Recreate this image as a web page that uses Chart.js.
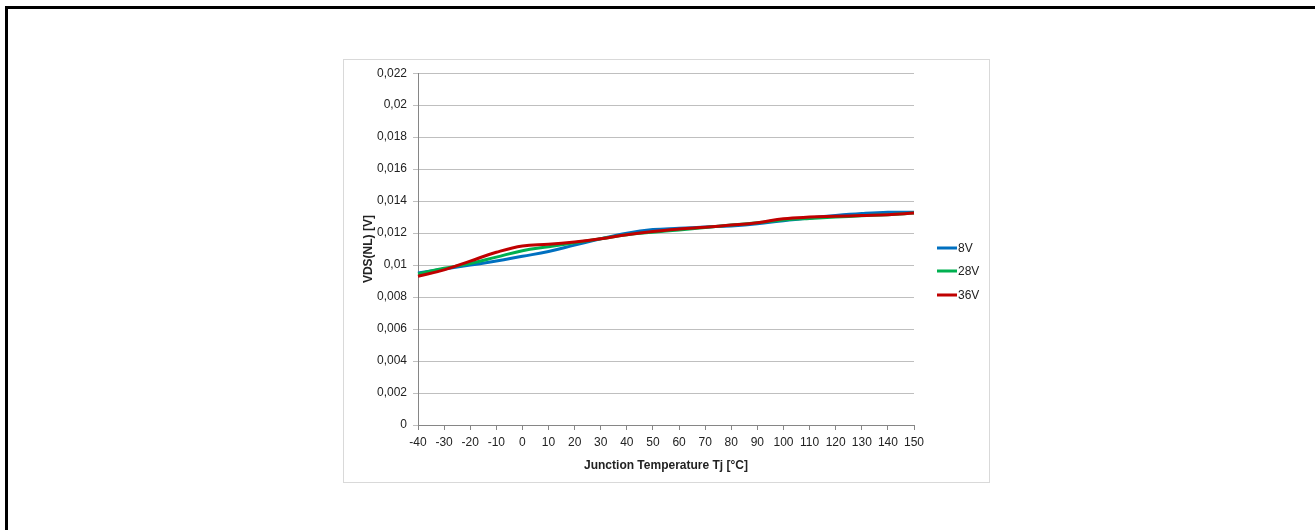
<!DOCTYPE html>
<html>
<head>
<meta charset="utf-8">
<script src="https://cdn.jsdelivr.net/npm/chart.js@4.4.1/dist/chart.umd.min.js"></script>
<style>
	html, body { margin: 0; padding: 0; background: #fff; }
	body { width: 1315px; height: 530px; position: relative; overflow: hidden; }
	#frame { position: absolute; left: 5px; top: 6px; width: 1320px; height: 540px;
		border-top: 3px solid #000; border-left: 3px solid #000; }
	#box { position: absolute; left: 343px; top: 59px; width: 645px; height: 422px;
		border: 1px solid #d9d9d9; }
	#myChart { display: block; }
</style>
</head>
<body>
<div id="frame"></div>
<div id="box"><canvas id="myChart" width="645" height="422"></canvas></div>
<script>
	'use strict';

	var temps = [-40, -30, -20, -10, 0, 10, 20, 30, 40, 50, 60, 70, 80, 90, 100, 110, 120, 130, 140, 150];
	var v8 = [0.0095, 0.00975, 0.0100, 0.01025, 0.01055, 0.01085, 0.01125, 0.01165, 0.0120, 0.01222,
		0.0123, 0.01238, 0.01245, 0.01258, 0.01278, 0.01295, 0.0131, 0.01322, 0.0133, 0.0133];
	var v28 = [0.00945, 0.0098, 0.0101, 0.0105, 0.0109, 0.01115, 0.0114, 0.01165, 0.0119, 0.01205,
		0.0122, 0.01235, 0.0125, 0.01265, 0.01282, 0.01292, 0.013, 0.01308, 0.01315, 0.01325];
	var v36 = [0.0093, 0.0097, 0.01025, 0.0108, 0.0112, 0.0113, 0.01145, 0.01165, 0.0119, 0.0121,
		0.01225, 0.01237, 0.0125, 0.01265, 0.0129, 0.013, 0.01305, 0.0131, 0.01315, 0.01325];
	var yTicks = [0, 0.002, 0.004, 0.006, 0.008, 0.01, 0.012, 0.014, 0.016, 0.018, 0.02, 0.022];

	var fontFamily = '"Liberation Sans", Arial, sans-serif';
	var axisColor = '#868686';
	var gridColor = '#bfbfbf';
	var textColor = '#222';

	function series(label, data, color, order) {
		return {
			label : label,
			data : data,
			order : order,
			borderColor : color,
			backgroundColor : color,
			borderWidth : 3,
			pointRadius : 0,
			tension : 0.4,
			fill : false
		};
	}

	// small legend on the right, Excel style (short line + label)
	var sideLegend = {
		id : 'sideLegend',
		afterDraw : function(chart) {
			var c = chart.ctx;
			var area = chart.chartArea;
			var sets = chart.data.datasets;
			var step = 23.5;
			var y0 = chart.height / 2 - step * (sets.length - 1) / 2;
			var x0 = area.right + 23;
			c.save();
			c.font = '12px ' + fontFamily;
			c.textBaseline = 'middle';
			c.textAlign = 'left';
			sets.forEach(function(ds, i) {
				var y = Math.round(y0 + i * step);
				c.fillStyle = ds.borderColor;
				c.fillRect(x0, y - 1.5, 20, 3);
				c.fillStyle = textColor;
				c.fillText(ds.label, x0 + 21, y + 1);
			});
			c.restore();
		}
	};

	var ctx = document.getElementById("myChart");

	var myChart = new Chart(ctx, {
		type : 'line',
		data : {
			labels : temps,
			datasets : [
				series("8V", v8, "#0070c0", 2),
				series("28V", v28, "#00b050", 1),
				series("36V", v36, "#c00000", 0)
			]
		},
		plugins : [sideLegend],
		options : {
			responsive : false,
			animation : false,
			layout : {
				padding : { top : 13, right : 75, bottom : 9, left : 17 }
			},
			plugins : {
				tooltip : { enabled : false },
				legend : { display : false }
			},
			scales : {
				x : {
					type : 'category',
					offset : false,
					grid : { drawOnChartArea : false, drawTicks : true, tickLength : 5, color : axisColor },
					border : { color : axisColor },
					ticks : {
						color : textColor,
						autoSkip : false,
						maxRotation : 0,
						padding : 5,
						font : { family : fontFamily, size : 12 }
					},
					title : {
						display : true,
						text : 'Junction Temperature Tj [°C]',
						color : textColor,
						padding : { top : 4, bottom : 0 },
						font : { family : fontFamily, size : 12, weight : 'bold' }
					},
					afterFit : function(scale) { scale.height = 48; }
				},
				y : {
					min : 0,
					max : 0.022,
					afterBuildTicks : function(scale) {
						scale.ticks = yTicks.map(function(v) { return { value : v }; });
					},
					grid : { color : gridColor, tickLength : 5, tickColor : gridColor },
					border : { color : axisColor },
					ticks : {
						color : textColor,
						padding : 6,
						font : { family : fontFamily, size : 12 },
						callback : function(value) {
							return String(parseFloat(value.toFixed(3))).replace('.', ',');
						}
					},
					title : {
						display : true,
						text : 'VDS(NL) [V]',
						color : textColor,
						padding : { top : 0, bottom : 4 },
						font : { family : fontFamily, size : 12, weight : 'bold' }
					},
					afterFit : function(scale) { scale.width = 57; }
				}
			}
		}
	});
</script>
</body>
</html>
